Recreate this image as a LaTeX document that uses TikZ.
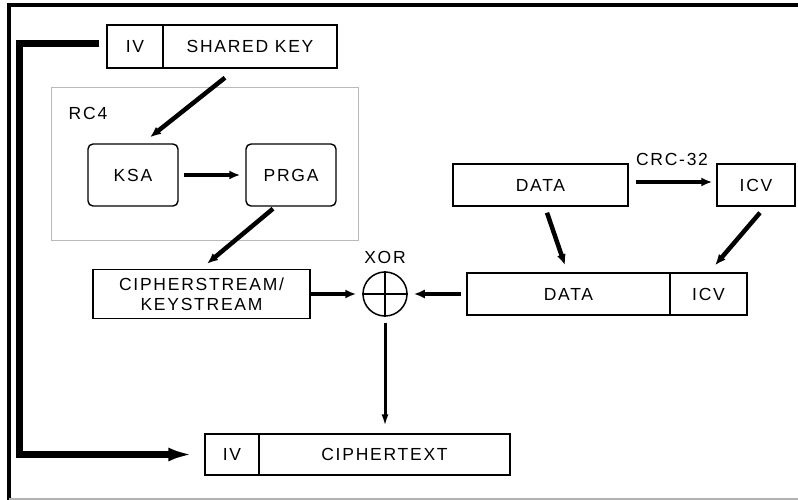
\documentclass[tikz,border=0pt]{standalone}
\usepackage{fontspec}
\setmainfont{Liberation Sans}[LetterSpace=10]
\usetikzlibrary{arrows.meta}

\begin{document}
\begin{tikzpicture}[x=1pt,y=-1pt,
  lbl/.style={font=\fontsize{17.5}{20}\selectfont, inner sep=0pt},
  box/.style={lbl, draw, line width=1.4pt, align=center},
  rbox/.style={box, rounded corners=5pt},
  arr/.style={line width=4.5pt, -{Latex[length=11pt,width=9pt]}},
  thinarr/.style={line width=3pt, -{Latex[length=12pt,width=7pt]}},
  bigarr/.style={line width=7pt, line join=miter, -{Latex[length=24pt,width=14pt]}}]
\useasboundingbox (0,0) rectangle (798,500);

% frame edges
\draw[line width=3.5pt] (798,5) -- (9,5) -- (9,500);
\draw[gray!60, line width=1.5pt] (9,499) -- (798,499);

% key material
\node[box, minimum width=56, minimum height=43] (iv) at (135,46.5) {IV};
\node[box, minimum width=174, minimum height=43] (sk) at (250,46.5) {SHARED KEY};

% RC4 block
\draw[gray!55, line width=1pt] (51,88) rectangle (358,240);
\node[lbl] (rc4) at (88,113) {RC4};
\node[rbox, minimum width=90, minimum height=62] (ksa) at (133,175) {KSA};
\node[rbox, minimum width=90, minimum height=62] (prga) at (291,175) {PRGA};

% keystream and XOR
\node[box, minimum width=217, minimum height=49] (cs) at (201.5,294) {CIPHERSTREAM/\\KEYSTREAM};
\node[draw, circle, line width=1.5pt, minimum size=44, inner sep=0pt] (xor) at (385,294) {};
\draw[line width=1.5pt] (xor.north) -- (xor.south) (xor.west) -- (xor.east);
\node[lbl] (xorlbl) at (385,257) {XOR};

% plaintext and integrity check value
\node[box, minimum width=175, minimum height=42] (data1) at (540.5,185) {DATA};
\node[box, minimum width=78, minimum height=42] (icv1) at (756,185) {ICV};
\node[lbl] (crc) at (672,159) {CRC-32};
\node[box, minimum width=203, minimum height=42] (data2) at (568.5,294) {DATA};
\node[box, minimum width=77, minimum height=42] (icv2) at (708.5,294) {ICV};

% output
\node[box, minimum width=54, minimum height=41] (ctiv) at (232,454.5) {IV};
\node[box, minimum width=251, minimum height=41] (ct) at (384.5,454.5) {CIPHERTEXT};

% connectors
\draw[arr] ([shift={(-25,9)}]sk.south) -- ([shift={(17,-6)}]ksa.north);
\draw[arr, shorten <=5pt, shorten >=5pt] (ksa.east) -- (prga.west);
\draw[arr] ([shift={(-18,2)}]prga.south) -- ([shift={(5.5,-5)}]cs.north);
\draw[arr, shorten >=6pt] (cs.east) -- (xor.west);
\draw[arr, shorten <=5pt, shorten >=6pt] (data2.west) -- (xor.east);
\draw[thinarr, shorten <=6pt, shorten >=7pt] (xor.south) -- (xor.south |- ct.north);
\draw[arr] ([shift={(7,-3)}]data1.east) -- ([shift={(-4,-3)}]icv1.west);
\draw[arr] ([shift={(6.5,6)}]data1.south) -- ([shift={(-3.5,-7)}]data2.north);
\draw[arr] ([shift={(4,6)}]icv1.south) -- ([shift={(6.5,-7)}]icv2.north);
\draw[bigarr] ([shift={(-7,-3)}]iv.west) -| ([xshift=-185pt]ctiv.west) -- ([xshift=-12pt]ctiv.west);
\end{tikzpicture}
\end{document}
